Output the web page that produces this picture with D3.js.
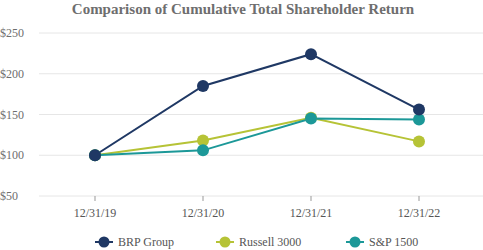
<!DOCTYPE html>
<html>
<head>
<meta charset="utf-8">
<script src="https://cdn.jsdelivr.net/npm/d3@7"></script>
<style>
  body { margin: 0; background: #fff; }
</style>
</head>
<body>
<div id="chart"></div>
<script>
var years = ["12/31/19", "12/31/20", "12/31/21", "12/31/22"];
var brp = [100, 185, 224, 156];
var russell = [100, 118, 146, 117];
var sp1500 = [100, 106, 145, 144];
var yTicks = [50, 100, 150, 200, 250];
var seriesNames = ["BRP Group", "Russell 3000", "S&P 1500"];
var seriesColors = ["#1f3864", "#b6c336", "#1c9898"];

var serif = "'Liberation Serif', 'Times New Roman', Times, serif";
var width = 483, height = 250;
var svg = d3.select("#chart").append("svg").attr("width", width).attr("height", height);

var x = d3.scaleBand().domain(years).range([41, 473]);
var y = d3.scaleLinear().domain([50, 250]).range([196, 33]);

svg.append("text").attr("x", 243).attr("y", 14).attr("text-anchor", "middle")
  .style("font-family", serif).style("font-size", "15px").style("font-weight", "bold")
  .attr("fill", "#6e6e6e")
  .text("Comparison of Cumulative Total Shareholder Return");

// gridlines + y labels
svg.selectAll(".grid").data(yTicks).enter().append("line")
  .attr("x1", 39).attr("x2", 483)
  .attr("y1", function(d){ return y(d); }).attr("y2", function(d){ return y(d); })
  .attr("stroke", "#e6e6e6").attr("stroke-width", 1);
svg.selectAll(".ylab").data(yTicks).enter().append("text")
  .attr("x", 0).attr("y", function(d){ return y(d) + 4; })
  .style("font-family", serif).style("font-size", "12px").attr("fill", "#6e6e6e")
  .text(function(d){ return "$" + d; });

// x axis
var xAxis = svg.append("g").attr("transform", "translate(0," + y(50) + ")")
  .call(d3.axisBottom(x).tickSize(5).tickPadding(7));
xAxis.select(".domain").remove();
xAxis.selectAll("line").attr("stroke", "#999");
xAxis.selectAll("text").style("font-family", serif).style("font-size", "12px").attr("fill", "#555");

var cx = function(d, i){ return x(years[i]) + x.bandwidth() / 2; };
var line = d3.line().x(cx).y(function(d){ return y(d); });

var all = [russell, sp1500, brp];
var allColors = [seriesColors[1], seriesColors[2], seriesColors[0]];
all.forEach(function(s, k){
  svg.append("path").datum(s).attr("d", line).attr("fill", "none")
    .attr("stroke", allColors[k]).attr("stroke-width", 2);
});
all.forEach(function(s, k){
  svg.selectAll(null).data(s).enter().append("circle")
    .attr("cx", cx).attr("cy", function(d){ return y(d); })
    .attr("r", 6).attr("fill", allColors[k]);
});

// legend
var legX = [95, 216, 346];
seriesNames.forEach(function(n, i){
  var g = svg.append("g").attr("transform", "translate(" + legX[i] + ",242)");
  g.append("line").attr("x1", 0).attr("x2", 18).attr("stroke", seriesColors[i]).attr("stroke-width", 2);
  g.append("circle").attr("cx", 9).attr("cy", 0).attr("r", 5.5).attr("fill", seriesColors[i]);
  g.append("text").attr("x", 23).attr("y", 4)
    .style("font-family", serif).style("font-size", "12px").attr("fill", "#555").text(n);
});
</script>
</body>
</html>
